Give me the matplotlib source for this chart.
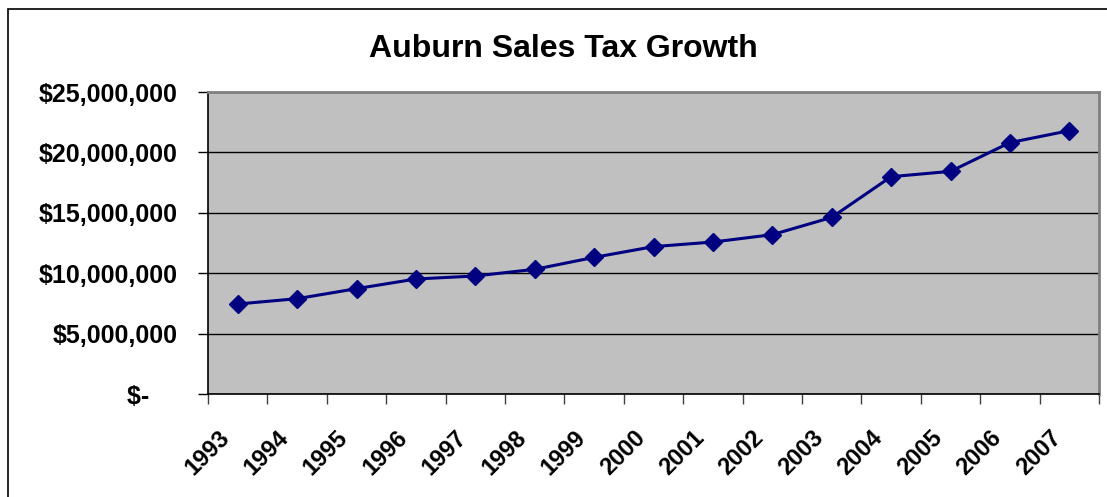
import matplotlib
matplotlib.use("Agg")
import matplotlib.pyplot as plt
import matplotlib.patches as patches
import matplotlib.transforms as mtransforms
from matplotlib.ticker import FixedLocator, FuncFormatter

# Auburn sales tax revenue by year
years = ["1993", "1994", "1995", "1996", "1997", "1998", "1999", "2000",
         "2001", "2002", "2003", "2004", "2005", "2006", "2007"]
revenue = [7450000, 7890000, 8720000, 9520000, 9770000, 10320000, 11310000,
           12200000, 12580000, 13190000, 14620000, 17990000, 18430000,
           20810000, 21800000]
y_ticks = [0, 5000000, 10000000, 15000000, 20000000, 25000000]

plt.rcParams['font.family'] = ['Liberation Sans', 'DejaVu Sans']
plt.rcParams['font.weight'] = 'bold'

W, H, DPI = 1107, 497, 100
fig = plt.figure(figsize=(W / DPI, H / DPI), dpi=DPI)
fig.patch.set_facecolor('white')

# chart frame (runs off the right and bottom edge)
frame = patches.Rectangle((8 / W, -0.2), 1.5, (H - 9) / H + 0.2,
                          transform=fig.transFigure, fill=False,
                          edgecolor='black', linewidth=1.2, clip_on=False)
fig.add_artist(frame)

ax = fig.add_axes([208 / W, (H - 394) / H, (1099 - 208) / W, (394 - 92) / H])
ax.set_facecolor('#C0C0C0')

x = list(range(len(years)))
ax.plot(x, revenue, color='#000080', linewidth=2.2, marker='D',
        markersize=9, markerfacecolor='#000080', markeredgecolor='#000080',
        zorder=3)

ax.set_xlim(-0.5, len(years) - 0.5)
ax.set_ylim(0, 25000000)

# y axis in accounting style
def money(v, pos):
    if v == 0:
        return "$-    "
    return "${:,.0f}".format(v)

ax.yaxis.set_major_locator(FixedLocator(y_ticks))
ax.yaxis.set_major_formatter(FuncFormatter(money))
ax.tick_params(axis='y', direction='out', length=7, width=1, pad=15,
               labelsize=18, colors='black')
ax.grid(axis='y', color='black', linewidth=1)
ax.set_axisbelow(True)

# category boundaries get the ticks, labels sit at the category centres
ax.xaxis.set_major_locator(FixedLocator([i - 0.5 for i in range(len(years) + 1)]))
ax.xaxis.set_major_formatter(FuncFormatter(lambda v, p: ""))
ax.xaxis.set_minor_locator(FixedLocator(x))
ax.set_xticks(x, years, minor=True)
ax.tick_params(axis='x', which='major', direction='out', length=7, width=1,
               color='#404040')
ax.tick_params(axis='x', which='minor', length=0, pad=29, labelsize=17)
shift = mtransforms.ScaledTranslation(-12 / DPI, 0, fig.dpi_scale_trans)
for lbl in ax.get_xticklabels(minor=True):
    lbl.set_rotation(45)
    lbl.set_ha('right')
    lbl.set_va('center')
    lbl.set_rotation_mode('anchor')
    lbl.set_transform(lbl.get_transform() + shift)

for side in ['left', 'bottom']:
    ax.spines[side].set_color('black')
    ax.spines[side].set_linewidth(1.2)
for side in ['top', 'right']:
    ax.spines[side].set_color('#808080')
    ax.spines[side].set_linewidth(2)

fig.text(563 / W, 1 - 57 / H, "Auburn Sales Tax Growth", ha='center',
         va='baseline', fontsize=23, fontweight='bold')

fig.savefig('out.png', dpi=DPI)
